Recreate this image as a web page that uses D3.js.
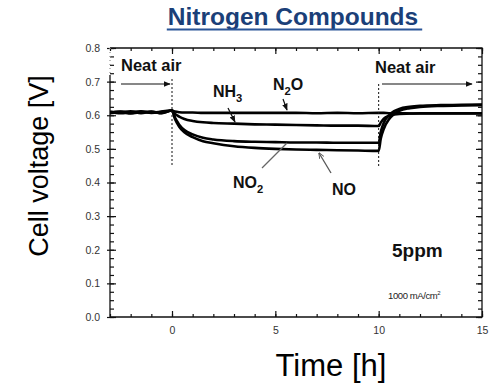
<!DOCTYPE html>
<html>
<head>
<meta charset="utf-8">
<script src="https://cdn.jsdelivr.net/npm/d3@7"></script>
<style>
  body { margin: 0; background: #fff; }
  text { font-family: Arial, "Liberation Sans", sans-serif; }
</style>
</head>
<body>
<div id="chart"></div>
<script>

// time axis of the recording (h)
var time = [-3, -2.5, -2, -1.5, -1, -0.5, 0, 0.15, 0.35, 0.6, 1, 1.5, 2, 3, 4, 5, 6, 7, 8, 9, 10,
            10.1, 10.25, 10.5, 10.75, 11, 11.5, 12, 13, 14, 15];

// cell voltage (V), one list per gas
var n2o = [0.609, 0.611, 0.607, 0.610, 0.608, 0.611, 0.614, 0.611, 0.609, 0.608, 0.608, 0.607, 0.607, 0.607, 0.607,
           0.607, 0.607, 0.606, 0.607, 0.606, 0.607, 0.607, 0.607, 0.606, 0.606, 0.606, 0.605, 0.605, 0.605, 0.605, 0.605];
var nh3 = [0.606, 0.609, 0.612, 0.606, 0.610, 0.607, 0.614, 0.604, 0.596, 0.589, 0.583, 0.579, 0.577, 0.575, 0.573,
           0.572, 0.571, 0.570, 0.569, 0.569, 0.568, 0.578, 0.590, 0.598, 0.602, 0.604, 0.605, 0.606, 0.606, 0.606, 0.606];
var no2 = [0.611, 0.606, 0.609, 0.612, 0.607, 0.610, 0.614, 0.592, 0.572, 0.556, 0.543, 0.533, 0.528, 0.523, 0.521,
           0.520, 0.519, 0.519, 0.518, 0.518, 0.518, 0.550, 0.578, 0.600, 0.612, 0.619, 0.625, 0.628, 0.630, 0.631, 0.632];
var no  = [0.607, 0.610, 0.605, 0.609, 0.611, 0.606, 0.614, 0.588, 0.566, 0.549, 0.535, 0.523, 0.517, 0.508, 0.503,
           0.500, 0.498, 0.497, 0.496, 0.495, 0.494, 0.530, 0.560, 0.588, 0.604, 0.613, 0.621, 0.625, 0.628, 0.629, 0.630];

var xMajor = [0, 5, 10, 15];
var yMajor = [0, 0.1, 0.2, 0.3, 0.4, 0.5, 0.6, 0.7, 0.8];

var series = [
  {name: "N2O", values: n2o},
  {name: "NH3", values: nh3},
  {name: "NO2", values: no2},
  {name: "NO",  values: no}
];

var width = 494, height = 383;
var margin = {top: 48, right: 12, bottom: 66, left: 110};

var x = d3.scaleLinear().domain([-3, 15]).range([margin.left, width - margin.right]);
var y = d3.scaleLinear().domain([0, 0.8]).range([height - margin.bottom, margin.top]);

var svg = d3.select("#chart").append("svg")
      .attr("width", width)
      .attr("height", height);

var defs = svg.append("defs");

defs.append("clipPath")
    .attr("id", "clip")
  .append("rect")
    .attr("x", x(-3))
    .attr("y", y(0.8))
    .attr("width", x(15) - x(-3))
    .attr("height", y(0) - y(0.8));

defs.append("marker")
    .attr("id", "head")
    .attr("viewBox", "0 0 10 10")
    .attr("refX", 9)
    .attr("refY", 5)
    .attr("markerWidth", 7)
    .attr("markerHeight", 7)
    .attr("markerUnits", "userSpaceOnUse")
    .attr("orient", "auto")
  .append("path")
    .attr("d", "M0,1 L10,5 L0,9 Z")
    .attr("fill", "#111");

defs.append("marker")
    .attr("id", "headGrey")
    .attr("viewBox", "0 0 10 10")
    .attr("refX", 9)
    .attr("refY", 5)
    .attr("markerWidth", 6)
    .attr("markerHeight", 6)
    .attr("markerUnits", "userSpaceOnUse")
    .attr("orient", "auto")
  .append("path")
    .attr("d", "M0,1 L10,5 L0,9")
    .attr("fill", "none")
    .attr("stroke", "#555")
    .attr("stroke-width", 1.5);

// title, underlined
var title = svg.append("text")
      .attr("x", 293)
      .attr("y", 25)
      .attr("text-anchor", "middle")
      .style("font-size", "24.5px")
      .style("font-weight", "bold")
      .attr("fill", "#1b3f78")
      .text("Nitrogen Compounds");

var tw = title.node().getComputedTextLength();
svg.append("line")
    .attr("x1", 293 - tw / 2 - 1)
    .attr("x2", 293 + tw / 2 + 4)
    .attr("y1", 29.5)
    .attr("y2", 29.5)
    .attr("stroke", "#2a5597")
    .attr("stroke-width", 2);

// axes : major ticks with labels, minor ticks without
var minorX = d3.range(-3, 15.01, 1);
var minorY = d3.range(0, 0.801, 0.025);

function noDomain(g) { g.select(".domain").remove(); }

svg.append("g")
    .attr("transform", `translate(0,${y(0)})`)
    .call(d3.axisBottom(x).tickValues(minorX).tickSize(-3).tickFormat(""))
    .call(noDomain);

svg.append("g")
    .attr("class", "xAxis")
    .attr("transform", `translate(0,${y(0)})`)
    .call(d3.axisBottom(x).tickValues(xMajor).tickSize(-6).tickPadding(10).tickFormat(d3.format("d")))
    .call(noDomain);

svg.append("g")
    .attr("transform", `translate(0,${y(0.8)})`)
    .call(d3.axisTop(x).tickValues(minorX).tickSize(-3).tickFormat(""))
    .call(noDomain);

svg.append("g")
    .attr("transform", `translate(0,${y(0.8)})`)
    .call(d3.axisTop(x).tickValues(xMajor).tickSize(-6).tickFormat(""))
    .call(noDomain);

svg.append("g")
    .attr("transform", `translate(${x(-3)},0)`)
    .call(d3.axisLeft(y).tickValues(minorY).tickSize(-4).tickFormat(""))
    .call(noDomain);

var yAxis = svg.append("g")
    .attr("class", "yAxis")
    .attr("transform", `translate(${x(-3)},0)`)
    .call(d3.axisLeft(y).tickValues(yMajor).tickSize(-6).tickPadding(10).tickFormat(d3.format(".1f")))
    .call(noDomain);
yAxis.selectAll(".tick line").attr("x1", -3); // major ticks cross the axis

svg.append("g")
    .attr("transform", `translate(${x(15)},0)`)
    .call(d3.axisRight(y).tickValues(minorY).tickSize(-4).tickFormat(""))
    .call(noDomain);

svg.append("g")
    .attr("transform", `translate(${x(15)},0)`)
    .call(d3.axisRight(y).tickValues(yMajor).tickSize(-6).tickFormat(""))
    .call(noDomain);

svg.selectAll(".tick line").attr("stroke", "#111").attr("stroke-width", 1.2);
svg.selectAll(".xAxis text, .yAxis text")
    .style("font-size", "10.5px")
    .attr("fill", "#333");

// frame (the upper left part of the axis is only dotted in the picture)
var frame = svg.append("g").attr("stroke", "#111").attr("stroke-width", 1.3).attr("fill", "none");
frame.append("path")
    .attr("d", `M${x(-3)},${y(0.72)} V${y(0)} H${x(15)} V${y(0.8)} H${x(-3)}`);
frame.append("line")
    .attr("x1", x(-3)).attr("x2", x(-3))
    .attr("y1", y(0.8)).attr("y2", y(0.72))
    .attr("stroke", "#999")
    .attr("stroke-dasharray", "1,3");

// curves
var line = d3.line()
      .curve(d3.curveMonotoneX)
      .x(function(d, i) { return x(time[i]); })
      .y(function(d) { return y(d); });

svg.append("g")
    .attr("clip-path", "url(#clip)")
  .selectAll(".line")
    .data(series)
  .enter().append("path")
    .attr("class", "line")
    .attr("fill", "none")
    .attr("stroke", "#000")
    .attr("stroke-width", 2.6)
    .attr("d", d => line(d.values));

// gas switching marks
[0, 10].forEach(function(t) {
  svg.append("line")
      .attr("x1", x(t)).attr("x2", x(t))
      .attr("y1", t == 0 ? 79 : 84)
      .attr("y2", 166)
      .attr("stroke", "#111")
      .attr("stroke-width", 1)
      .attr("stroke-dasharray", "2,2");
});

function label(px, py, main, sub, size, tail) {
  var t = svg.append("text")
        .attr("x", px)
        .attr("y", py)
        .style("font-size", size + "px")
        .style("font-weight", "bold")
        .attr("fill", "#111");
  t.append("tspan").text(main);
  if (sub) {
    t.append("tspan").attr("dy", size * 0.3).style("font-size", (size * 0.7) + "px").text(sub);
    if (tail) t.append("tspan").attr("dy", -size * 0.3).text(tail);
  }
  return t;
}

label(121, 71, "Neat air", null, 16.5);
label(375, 73, "Neat air", null, 16.5);
label(213, 97, "NH", "3", 16);
label(273, 90, "N", "2", 16, "O");
label(233, 188, "NO", "2", 16);
label(332, 195, "NO", null, 16);
label(392, 257, "5ppm", null, 19);

var cur = svg.append("text")
      .attr("x", 388)
      .attr("y", 299)
      .style("font-size", "9.5px")
      .style("letter-spacing", "-0.4px")
      .attr("fill", "#222")
      .text("1000 mA/cm");
cur.append("tspan").attr("dy", -4).style("font-size", "6px").text("2");

function arrow(x1, y1, x2, y2, marker, colour, w) {
  svg.append("line")
      .attr("x1", x1).attr("y1", y1)
      .attr("x2", x2).attr("y2", y2)
      .attr("stroke", colour)
      .attr("stroke-width", w)
      .attr("marker-end", marker ? `url(#${marker})` : null);
}

arrow(121, 84, 170, 84, "head", "#111", 1.2);
arrow(382, 84, 472, 84, "head", "#111", 1.2);
arrow(228, 108, 235, 122, "head", "#111", 1.2);
arrow(283, 99, 287, 110, "head", "#111", 1.2);
arrow(262, 168, 287, 143, null, "#666", 1.3);
arrow(331, 173, 319, 153, "headGrey", "#555", 1.3);

// axis titles
svg.append("text")
    .attr("transform", "translate(48,166) rotate(-90)")
    .attr("text-anchor", "middle")
    .style("font-size", "27px")
    .attr("fill", "#000")
    .text("Cell voltage [V]");

svg.append("text")
    .attr("x", 331)
    .attr("y", 376)
    .attr("text-anchor", "middle")
    .style("font-size", "31px")
    .attr("fill", "#000")
    .text("Time [h]");

</script>
</body>
</html>
